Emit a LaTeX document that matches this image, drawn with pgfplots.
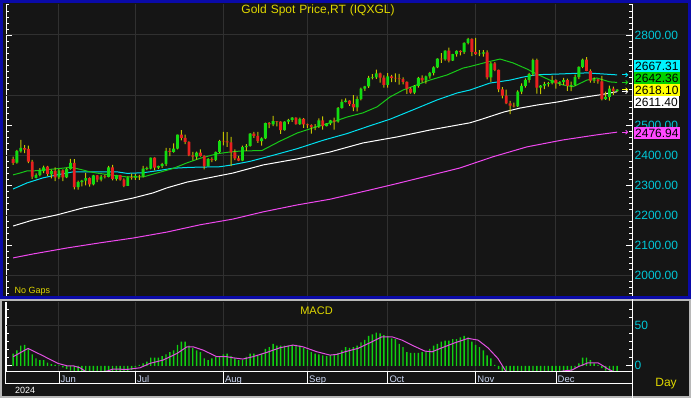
\documentclass[border=0pt]{standalone}
\usepackage{pgfplots}
\pgfplotsset{compat=1.18}
\usepackage{pgfplotstable}
\usepackage{fontspec}
\setmainfont{Liberation Sans}
\usetikzlibrary{arrows.meta}
\definecolor{bgc}{HTML}{151515}
\definecolor{gridc}{HTML}{303030}
\definecolor{upc}{HTML}{12DC12}
\definecolor{dnc}{HTML}{E82020}
\definecolor{wickc}{HTML}{C4C400}
\definecolor{magc}{HTML}{F048F0}
\definecolor{cyanc}{HTML}{00E0F0}
\definecolor{gmac}{HTML}{18C818}
\definecolor{numc}{HTML}{00C8D8}
\definecolor{ytxt}{HTML}{E0D800}
\definecolor{bxcyan}{HTML}{00F4FF}
\definecolor{bxgreen}{HTML}{00D000}
\definecolor{bxyellow}{HTML}{FFFF00}
\definecolor{bxmag}{HTML}{FF48FF}
\definecolor{bluec}{HTML}{0A0AA8}
\definecolor{macdg}{HTML}{10D010}
\definecolor{sigc}{HTML}{E050E0}
\definecolor{monc}{HTML}{C8D4F0}
\definecolor{lgray}{HTML}{B8B8B8}

\pgfplotstableread{
i O H L C U D
0 2387 2396 2368 2375 0 1
1 2376 2418 2372 2415 1 0
2 2413 2451 2409 2425 1 0
3 2424 2434 2407 2419 0 1
4 2421 2432 2374 2379 0 1
5 2379 2385 2322 2329 0 1
6 2325 2340 2323 2334 1 0
7 2334 2357 2330 2351 1 0
8 2347 2366 2341 2360 1 0
9 2362 2365 2332 2338 0 1
10 2337 2352 2323 2348 1 0
11 2348 2360 2314 2327 0 1
12 2327 2355 2321 2350 1 0
13 2350 2353 2314 2327 0 1
14 2327 2358 2324 2355 1 0
15 2355 2388 2352 2375 1 0
16 2375 2387 2287 2294 0 1
17 2294 2316 2286 2311 1 0
18 2311 2318 2297 2316 1 0
19 2316 2342 2300 2324 1 0
20 2324 2327 2296 2303 0 1
21 2303 2335 2300 2333 1 0
22 2333 2334 2311 2319 0 1
23 2319 2334 2313 2329 1 0
24 2329 2336 2323 2328 0 1
25 2328 2365 2327 2360 1 0
26 2360 2368 2317 2322 0 1
27 2322 2335 2316 2334 1 0
28 2334 2335 2316 2319 0 1
29 2319 2323 2294 2298 0 1
30 2298 2330 2298 2327 1 0
31 2327 2339 2319 2326 0 1
32 2326 2338 2318 2332 1 0
33 2332 2335 2318 2330 0 1
34 2330 2365 2327 2356 1 0
35 2355 2362 2351 2357 1 0
36 2356 2392 2353 2392 1 0
37 2392 2393 2350 2359 0 1
38 2359 2366 2354 2364 1 0
39 2364 2375 2358 2371 1 0
40 2371 2425 2365 2415 1 0
41 2415 2424 2397 2411 0 1
42 2411 2440 2409 2422 1 0
43 2422 2469 2420 2469 1 0
44 2469 2484 2450 2458 0 1
45 2458 2469 2437 2445 0 1
46 2445 2446 2397 2400 0 1
47 2400 2411 2383 2396 0 1
48 2396 2412 2386 2409 1 0
49 2409 2420 2396 2398 0 1
50 2398 2400 2353 2364 0 1
51 2364 2391 2363 2387 1 0
52 2387 2393 2377 2384 0 1
53 2384 2412 2381 2411 1 0
54 2411 2451 2408 2447 1 0
55 2447 2478 2433 2446 0 1
56 2446 2477 2428 2443 0 1
57 2443 2461 2364 2410 0 1
58 2410 2420 2384 2390 0 1
59 2390 2398 2381 2382 0 1
60 2382 2432 2381 2427 1 0
61 2427 2437 2415 2431 1 0
62 2431 2474 2429 2472 1 0
63 2472 2478 2458 2465 0 1
64 2465 2478 2441 2447 0 1
65 2447 2460 2432 2456 1 0
66 2456 2509 2454 2507 1 0
67 2507 2510 2490 2503 0 1
68 2503 2531 2497 2514 1 0
69 2514 2514 2496 2512 0 1
70 2512 2513 2471 2484 0 1
71 2484 2513 2482 2512 1 0
72 2512 2521 2504 2518 1 0
73 2518 2527 2511 2525 1 0
74 2525 2526 2502 2504 0 1
75 2504 2525 2501 2521 1 0
76 2521 2524 2491 2503 0 1
77 2503 2505 2490 2500 0 1
78 2500 2503 2472 2493 0 1
79 2493 2504 2484 2495 1 0
80 2495 2523 2491 2516 1 0
81 2516 2529 2485 2497 0 1
82 2497 2507 2496 2506 1 0
83 2506 2518 2500 2516 1 0
84 2516 2525 2485 2512 0 1
85 2512 2560 2509 2558 1 0
86 2558 2586 2555 2578 1 0
87 2578 2589 2576 2582 1 0
88 2582 2583 2564 2570 0 1
89 2570 2600 2547 2559 0 1
90 2559 2596 2546 2587 1 0
91 2587 2625 2583 2622 1 0
92 2622 2631 2614 2629 1 0
93 2629 2664 2624 2657 1 0
94 2657 2670 2652 2659 1 0
95 2659 2685 2654 2672 1 0
96 2672 2675 2642 2658 0 1
97 2658 2666 2625 2634 0 1
98 2634 2673 2625 2662 1 0
99 2662 2667 2643 2657 0 1
100 2657 2672 2643 2656 0 1
101 2656 2671 2635 2653 0 1
102 2653 2659 2636 2644 0 1
103 2644 2646 2604 2622 0 1
104 2622 2626 2605 2608 0 1
105 2608 2633 2603 2631 1 0
106 2631 2661 2625 2657 1 0
107 2657 2666 2642 2649 0 1
108 2649 2665 2638 2662 1 0
109 2662 2677 2655 2674 1 0
110 2674 2696 2666 2692 1 0
111 2692 2722 2690 2721 1 0
112 2721 2740 2707 2719 0 1
113 2719 2749 2715 2748 1 0
114 2748 2758 2709 2715 0 1
115 2715 2737 2714 2736 1 0
116 2736 2749 2728 2747 1 0
117 2747 2749 2732 2743 0 1
118 2743 2775 2737 2774 1 0
119 2774 2790 2769 2787 1 0
120 2787 2789 2730 2744 0 1
121 2744 2790 2734 2736 0 1
122 2736 2750 2730 2738 1 0
123 2738 2750 2728 2742 1 0
124 2742 2749 2652 2659 0 1
125 2659 2710 2644 2706 1 0
126 2706 2710 2680 2684 0 1
127 2684 2685 2610 2619 0 1
128 2619 2627 2589 2598 0 1
129 2598 2618 2570 2573 0 1
130 2573 2581 2537 2565 0 1
131 2565 2575 2559 2563 0 1
132 2563 2616 2561 2612 1 0
133 2612 2639 2603 2631 1 0
134 2631 2656 2625 2651 1 0
135 2651 2674 2642 2670 1 0
136 2670 2721 2664 2716 1 0
137 2716 2721 2605 2625 0 1
138 2625 2633 2603 2632 1 0
139 2632 2644 2620 2637 1 0
140 2637 2644 2628 2640 1 0
141 2640 2665 2636 2650 1 0
142 2650 2652 2622 2639 0 1
143 2639 2647 2631 2643 1 0
144 2643 2657 2634 2650 1 0
145 2650 2655 2614 2631 0 1
146 2631 2645 2613 2633 1 0
147 2633 2668 2631 2660 1 0
148 2660 2696 2653 2694 1 0
149 2694 2721 2690 2718 1 0
150 2718 2726 2680 2681 0 1
151 2681 2686 2642 2648 0 1
152 2648 2659 2641 2652 1 0
153 2652 2654 2638 2646 0 1
154 2646 2664 2583 2587 0 1
155 2587 2612 2584 2594 1 0
156 2594 2632 2582 2622 1 0
157 2622 2628 2601 2613 0 1
158 2613 2620 2611 2618.1 1 0
}\ohlc

\pgfplotstableread{
i M
0 15
1 19
2 25
3 26
4 21
5 14
6 9
7 7
8 7
9 4
10 2
11 1
12 0.5
13 -2
14 -4
15 -6
16 -10
17 -11
18 -12
19 -12
20 -13
21 -12
22 -12
23 -11
24 -10
25 -9
26 -9
27 -8
28 -8
29 -8
30 -7
31 -5
32 -2
33 1
34 3
35 5
36 10
37 10
38 10
39 12
40 14
41 17
42 19
43 26
44 30
45 30
46 25
47 22
48 19
49 17
50 9
51 7
52 9
53 11
54 12
55 14
56 15
57 12
58 9
59 7
60 7
61 11
62 15
63 15
64 13
65 15
66 21
67 23
68 27
69 25
70 25
71 25
72 25
73 26
74 26
75 25
76 22
77 20
78 17
79 15
80 14
81 13
82 12
83 13
84 14
85 16
86 19
87 23
88 22
89 23
90 25
91 29
92 32
93 37
94 39
95 41
96 40
97 38
98 37
99 34
100 33
101 27
102 23
103 17
104 16
105 16
106 16
107 17
108 18
109 21
110 25
111 27
112 30
113 31
114 31
115 33
116 33
117 35
118 37
119 35
120 30
121 26
122 23
123 19
124 13
125 9
126 1
127 -4
128 -10
129 -14
130 -17
131 -19
132 -18
133 -16
134 -14
135 -12
136 -10
137 -11
138 -12
139 -12
140 -11
141 -10
142 -10
143 -10
144 -10
145 -10
146 -9
147 -3
148 3
149 10
150 10
151 7
152 3
153 1
154 -3
155 -6
156 -8
157 -9
158 -10
}\macd

\pgfplotsset{
  overlay/.style={at={(6pt,101pt)}, anchor=south west, scale only axis,
    width=626pt, height=293pt, xmin=-1.86, xmax=161.9, ymin=1929, ymax=2903}
}

\begin{document}
\begin{tikzpicture}
\fill[bgc] (0pt,0pt) rectangle (691pt,398pt);

\begin{axis}[
  overlay,
  separate axis lines,
  x axis line style={draw=none},
  y axis line style={draw=white, line width=1pt},
  xtick={12,32,55,77,98,121,142}, xticklabels={},
  xtick style={draw=none}, xmajorgrids,
  ytick={2000,2100,2200,2300,2400,2500,2800}, minor ytick={1940,1960,...,2900},
  tick style={white, line width=0.8pt},
  major tick length=6pt, minor tick length=3pt,
  yticklabel pos=right,
  yticklabel style={text=numc, inner sep=0pt, xshift=2.5pt, font=\fontsize{12}{12}\selectfont,
    /pgf/number format/.cd, fixed, fixed zerofill, precision=2, 1000 sep={}, assume math mode=true},
  extra y ticks={2000,2200,2400,2600,2800}, extra y tick labels={},
  extra y tick style={grid=major, tick style={draw=none}},
  major grid style={draw=gridc, line width=1pt},
]
% 200-day
\addplot[magc, line width=1pt] coordinates {
(0,2059) (5.2,2072) (14.1,2092) (22.7,2109) (31.4,2125) (40.3,2145) (48.9,2169)
(57.5,2188) (65.4,2212) (74.3,2235) (82.9,2254) (94.1,2287) (100.4,2306) (109,2333)
(116.9,2358) (125.5,2395) (134.4,2428) (143.8,2451) (152.7,2468) (158,2476.94)};
% 100-day
\addplot[white, line width=1pt] coordinates {
(0,2165) (5.2,2185) (11.5,2202) (18.3,2225) (25.3,2242) (31.4,2258) (36.6,2275)
(40.3,2292) (45.5,2311) (52.3,2328) (57.5,2341) (65.4,2368) (74.3,2388) (82.9,2411)
(91.5,2441) (100.4,2461) (109,2484) (119.5,2508) (122.1,2518) (128.4,2544) (132.6,2557)
(137,2567) (142.3,2577) (148.3,2591) (153.5,2601) (158,2611.4)};
% 50-day
\addplot[cyanc, line width=1pt] coordinates {
(0,2288) (3.6,2308) (7.8,2325) (11.5,2335) (15.7,2345) (27.2,2345) (29.8,2340)
(34,2342) (38.4,2350) (41.8,2357) (46.3,2360) (54.1,2362) (56.7,2367) (62,2380)
(68,2400) (74.3,2422) (81.1,2450) (87.3,2472) (93.3,2498) (98.6,2520) (104.6,2551)
(110.9,2584) (116.1,2607) (119.5,2617) (124.7,2640) (130,2650) (133.4,2660)
(137,2668) (142.3,2670) (150.1,2674) (158,2667.31)};
% 20-day
\addplot[gmac, line width=1pt] coordinates {
(0,2335) (1.8,2341) (3.6,2348) (5.2,2348) (13.6,2358) (14.9,2361) (18.3,2351)
(20.1,2345) (21.9,2341) (25.3,2335) (29.8,2328) (34,2328) (37.6,2341) (41.8,2356)
(45.5,2375) (48.9,2390) (53.3,2405) (56.7,2411) (59.3,2414) (65.1,2416) (69.8,2447)
(74.3,2474) (78.4,2491) (82.9,2508) (87.3,2527) (91.5,2541) (95.2,2561) (98.6,2594)
(102,2617) (105.6,2634) (109,2650) (113.5,2667) (117.7,2690) (119.5,2695) (124,2710)
(127.4,2720) (130.8,2707) (134.4,2687) (137,2670) (140.4,2650) (143.8,2634)
(146.5,2628) (150.1,2650) (152.7,2657) (156.1,2644) (158,2642.36)};
% arrows
\draw[cyanc, line width=0.8pt, -{Straight Barb[length=2pt,width=4pt]}] (axis cs:159.3,2667.31) -- (axis cs:160.9,2667.31);
\draw[gmac, line width=0.8pt, -{Straight Barb[length=2pt,width=4pt]}] (axis cs:159.3,2642.36) -- (axis cs:160.9,2642.36);
\draw[bxyellow, line width=0.8pt, -{Straight Barb[length=2pt,width=4pt]}] (axis cs:159.3,2618.10) -- (axis cs:160.9,2618.10);
\draw[white, line width=0.8pt, -{Straight Barb[length=2pt,width=4pt]}] (axis cs:159.3,2611.40) -- (axis cs:160.9,2611.40);
\draw[magc, line width=0.8pt, -{Straight Barb[length=2pt,width=4pt]}] (axis cs:159.3,2476.94) -- (axis cs:160.9,2476.94);
\end{axis}

% wicks: stacked bars, invisible base at the low, visible part up to the high
\begin{axis}[overlay, hide axis, ybar stacked, bar width=1pt]
\addplot[draw=none, fill=none] table[x=i, y=L] {\ohlc};
\addplot[draw=none, fill=wickc] table[x=i, y expr={\thisrow{H}-\thisrow{L}}] {\ohlc};
\end{axis}

% bodies: stacked bars, invisible base at min(O,C), then up or down body
\begin{axis}[overlay, hide axis, ybar stacked, bar width=2.9pt]
\addplot[draw=none, fill=none] table[x=i, y expr={min(\thisrow{O},\thisrow{C})}] {\ohlc};
\addplot[draw=none, fill=upc] table[x=i, y expr={\thisrow{U}*max(abs(\thisrow{C}-\thisrow{O}),1.6)}] {\ohlc};
\addplot[draw=none, fill=dnc] table[x=i, y expr={\thisrow{D}*max(abs(\thisrow{C}-\thisrow{O}),1.6)}] {\ohlc};
\end{axis}

\begin{axis}[
  at={(6pt,26pt)}, anchor=south west, scale only axis,
  width=626pt, height=70pt,
  xmin=-1.86, xmax=161.9, ymin=-7.7, ymax=78.9,
  separate axis lines,
  x axis line style={draw=none},
  y axis line style={draw=white, line width=1pt},
  xtick={12,32,55,77,98,121,142}, xticklabels={},
  xtick style={draw=none}, xmajorgrids,
  ytick={0,50}, minor ytick={10,20,30,40,60,70},
  tick style={white, line width=0.8pt},
  major tick length=6pt, minor tick length=3pt,
  yticklabel pos=right,
  yticklabel style={text=numc, inner sep=0pt, xshift=2.5pt, font=\fontsize{12}{12}\selectfont,
    /pgf/number format/assume math mode=true},
  extra y ticks={50}, extra y tick labels={},
  extra y tick style={grid=major, tick style={draw=none}},
  major grid style={draw=gridc, line width=1pt},
]
\addplot[ybar, bar width=1.4pt, bar shift=0pt, fill=macdg, draw=none] table[x=i, y=M] {\macd};
\addplot[sigc, line width=1pt] coordinates {
(0,11.2) (3.9,21.5) (7.8,12.4) (11.7,3) (14.1,0) (15.7,0) (17.5,-2.5) (19.6,-9)
(24.6,-6.6) (26.1,-4) (29.8,-4.5) (33.2,-2.5) (35.8,3) (39.2,7) (42.9,15.3)
(45.5,23.5) (47.1,23.5) (49.7,19.4) (53.3,11.2) (55.9,11.2) (57.5,9.9) (60.1,8.3)
(62.7,11.2) (66.4,16.6) (69.8,22.3) (73.2,25.6) (75.8,23.5) (79.5,17.3) (82.9,13.2)
(84.7,14.1) (86.8,17.3) (90.2,21.5) (93.9,29.7) (96.5,35.9) (99.1,35.9) (101.7,31.8)
(104.3,25.6) (107.7,18.2) (109.6,17.3) (112.2,22.3) (115.6,28.5) (119,33.9)
(121.6,31.8) (124.2,22.3) (126.8,9.2) (128.7,-5.3) (130.5,-14) (134,-18) (138,-15)
(141,-11) (143.6,-6.6) (146.2,-5.3) (147.8,-1.2) (150.4,3.7) (153,3.7) (154.3,0)
(155.6,-4) (157.4,-7.8) (158,-9)};
\end{axis}

% frames
\draw[lgray, line width=2pt] (1pt,1pt) rectangle (690pt,98pt);
\draw[bluec, line width=3pt] (1.5pt,100.5pt) rectangle (689.5pt,396.5pt);
\draw[white, line width=1pt] (632.5pt,0pt) -- (632.5pt,99pt);
\draw[white, line width=1pt] (5pt,26pt) -- (632.5pt,26pt);
\draw[white, line width=1pt] (5pt,14.7pt) -- (632.5pt,14.7pt);
\draw[white, line width=1pt] (5.5pt,14.7pt) -- (5.5pt,96pt);
\foreach \mx in {59.0,135.4,223.4,307.5,387.8,475.7,556.0} {
  \draw[white, line width=1pt] (\mx pt,14.7pt) -- (\mx pt,26pt);
}
\begin{scope}
\clip (6pt,15.2pt) rectangle (632pt,25.5pt);
\foreach \mx/\ml in {59.0/Jun,135.4/Jul,223.4/Aug,307.5/Sep,387.8/Oct,475.7/Nov,556.0/Dec} {
  \node[anchor=base west, inner sep=0pt, text=monc, font=\fontsize{9.5}{10}\selectfont] at (\mx pt+1.5pt,15.8pt) {\ml};
}
\end{scope}
\node[anchor=base west, inner sep=0pt, text=white, font=\fontsize{9}{10}\selectfont] at (15pt,4pt) {2024};
\node[text=ytxt, inner sep=0pt, font=\fontsize{12}{12}\selectfont] at (666pt,14.5pt) {Day};
\node[anchor=west, text=ytxt, inner sep=0pt, font=\fontsize{9}{10}\selectfont] at (14.5pt,107pt) {No Gaps};
\node[text=ytxt, inner sep=0pt, font=\fontsize{11}{12}\selectfont] at (316.5pt,87.5pt) {MACD};
\node[text=ytxt, inner sep=0pt, font=\fontsize{12}{12}\selectfont] at (318pt,387.5pt) {Gold\,\,Spot\,\,Price,RT\,\,(IQXGL)};

% value boxes
\tikzset{vb/.style={anchor=west, inner xsep=1.5pt, inner ysep=0pt, minimum height=12pt, text=black, font=\fontsize{12}{12}\selectfont}}
\node[vb, fill=bxcyan] at (633.5pt,332pt) {2667.31};
\node[vb, fill=bxgreen] at (633.5pt,319.5pt) {2642.36};
\node[vb, fill=bxyellow] at (633.5pt,307.5pt) {2618.10};
\node[vb, fill=white] at (633.5pt,295.5pt) {2611.40};
\node[vb, fill=bxmag] at (633.5pt,264.5pt) {2476.94};
\end{tikzpicture}
\end{document}
